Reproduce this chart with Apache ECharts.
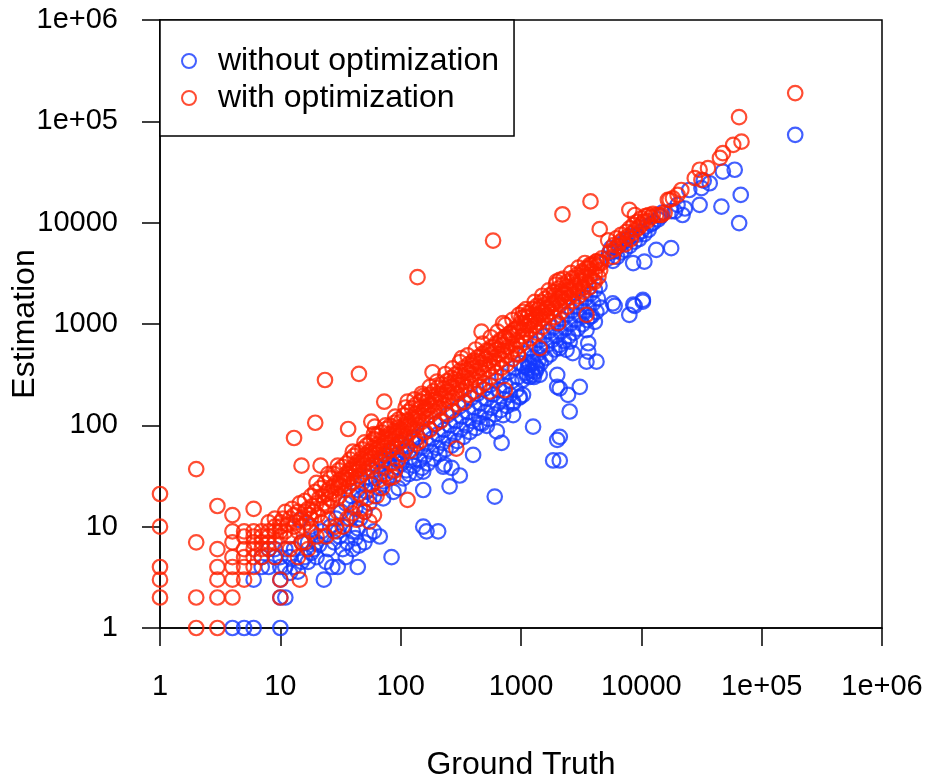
<!DOCTYPE html>
<html>
<head>
<meta charset="utf-8">
<title>Estimation vs Ground Truth</title>
<script src="https://cdn.jsdelivr.net/npm/echarts@6/dist/echarts.min.js"></script>
<style>
  html, body { margin: 0; padding: 0; background: #fff; }
  #grafico { width: 930px; height: 779px; }
</style>
</head>
<body>
<div id="grafico"></div>
<script>
// etiquetas de los ejes (escala log10)
const xTickLabels = ['1', '10', '100', '1000', '10000', '1e+05', '1e+06']
const yTickLabels = ['1', '10', '100', '1000', '10000', '1e+05', '1e+06']
const seriesNames = ['without optimization', 'with optimization']

// [ground truth, estimation] leídos del gráfico
// --- without optimization (azul)
const blueLow = [
  [4, 1], [5, 1], [6, 1], [10, 1], [10, 2], [11, 2], [6, 3], [10, 3], [7, 4], [8, 4],
  [10, 4], [7, 5], [9, 5], [8, 6], [9, 6], [10, 5], [11, 4], [11, 6], [12, 3.5], [12, 5],
  [13, 4], [13, 6], [14, 3.6], [14.5, 11.6], [15, 4.5], [15, 7], [16, 5], [17, 4.5], [17, 7],
  [18, 10], [18, 5.5], [19, 6], [20, 7], [20, 5], [21, 6.6], [22, 9], [23, 3], [23, 8],
  [24, 4.5], [25, 6], [26, 10], [27, 4], [28, 7], [29, 12], [30, 9], [30, 4]
]
const blueBand1 = [
  [31, 8], [32, 14], [33, 6], [34, 10], [35, 17], [35, 5], [36, 7], [38, 12], [39, 20], [40, 9],
  [40, 6], [42, 7.7], [42, 15], [44, 4], [44, 9.6], [44, 23], [45, 6.5], [46, 12], [47, 19],
  [48, 27], [50, 14], [50, 7], [52, 22], [53, 31], [55, 8.3], [55, 17], [57, 26], [58, 36],
  [60, 20], [60, 9], [62, 30], [64, 40], [66, 24], [67, 8], [68, 34], [70, 45], [71.6, 19],
  [72, 28], [74, 38], [76, 50], [78, 31], [80, 42], [82, 56], [84, 5], [85, 35], [87, 22],
  [88, 47], [90, 62], [92, 39], [94, 52], [96, 24], [98, 68], [100, 45]
]
const blueBand2 = [
  [102, 42], [105, 30], [108, 55], [111, 36], [114, 62], [117, 33], [120, 48], [124, 70],
  [128, 40], [131, 55], [135, 34], [139, 76], [143, 45], [147, 60], [151, 38], [154, 35],
  [154, 23], [154, 10], [155, 84], [159, 50], [164, 9], [164, 66], [168, 42], [173, 92],
  [178, 55], [183, 74], [188, 47], [193, 102], [199, 60], [205, 9], [205, 82], [210, 52],
  [216, 112], [222, 67], [226, 39], [229, 90], [232, 41], [236, 58], [243, 125], [250, 74],
  [255, 25], [257, 100], [265, 38], [265, 63], [272, 138], [280, 82], [288, 110], [296, 70],
  [305, 152], [310, 32], [314, 91], [323, 122], [333, 77], [343, 168], [353, 100], [364, 135],
  [375, 86], [386, 186], [398, 110], [400, 51], [410, 150], [422, 94], [435, 205], [448, 122],
  [455, 105], [461, 165], [475, 104], [490, 226], [504, 135], [520, 99], [520, 183], [535, 116],
  [551, 250], [568, 149], [585, 202], [605, 19.8], [603, 128], [621, 275], [630, 87], [640, 164],
  [659, 222], [679, 141], [690, 67], [699, 305], [710, 126], [720, 181], [742, 245], [764, 155],
  [787, 336], [811, 200], [836, 271], [860, 126], [860, 165], [861, 171], [887, 371], [914, 221],
  [942, 299], [970, 188], [980, 192], [999, 410]
]
const blueBand3 = [
  [1030, 280], [1060, 380], [1090, 510], [1120, 310], [1160, 420], [1190, 570], [1230, 345],
  [1260, 470], [1300, 630], [1340, 380], [1380, 510], [1420, 690], [1460, 410], [1500, 560],
  [1550, 760], [1600, 460], [1640, 620], [1690, 840], [1740, 500], [1800, 690], [1850, 920],
  [1900, 560], [1960, 760], [2020, 1010], [2080, 620], [2140, 830], [2200, 1110], [2270, 680],
  [2340, 910], [2410, 1230], [2480, 750], [2560, 1000], [2640, 1350], [2720, 820], [2800, 1100],
  [2880, 1480], [2960, 900], [3050, 1220], [3140, 1630], [3240, 990], [3340, 1340], [3440, 1790],
  [3540, 1090], [3650, 1470], [3760, 1970], [3870, 1200], [3990, 1610], [4110, 2170], [4230, 1320],
  [4360, 1780], [4490, 2390], [4620, 1450],
  [1100, 330], [1180, 300], [1250, 420], [1320, 340], [1400, 440], [1280, 300],
  [1040, 200], [1140, 366], [1180, 395], [1260, 97], [1260, 315], [1360, 366], [1430, 315],
  [1850, 45], [2000, 315], [2000, 240], [2000, 72], [2100, 577], [2100, 232], [2100, 45],
  [2100, 77], [2390, 555], [2460, 200], [2540, 670], [2540, 137], [2690, 515], [3080, 240],
  [3500, 870], [3500, 425], [3620, 646], [3620, 534], [3730, 1180], [4110, 1050], [4240, 425]
]
const blueHigh = [
  [5200, 4400], [5400, 5000], [5600, 5600], [5800, 1600], [5800, 4200], [6000, 1510], [6000, 5200],
  [6300, 4600], [6500, 5900], [6800, 5100], [7000, 6300], [7300, 5400], [7600, 6800], [7950, 1230],
  [8000, 5900], [8300, 7400], [8550, 3990], [8570, 1550], [8800, 1510], [8800, 6500], [9200, 7600],
  [9600, 6900], [10000, 8200], [10300, 1730], [10300, 1660], [10600, 4130], [10600, 7700],
  [11000, 9200], [11500, 8500], [12000, 9600], [12600, 10000], [13300, 5400], [13800, 10800],
  [14400, 11500], [15000, 12600], [17700, 5600], [17700, 13000], [19000, 12900], [20000, 15000],
  [22000, 11900], [23000, 13800], [25000, 21000], [30500, 15000], [31600, 21900], [33000, 26000],
  [37000, 24500], [46300, 14400], [47600, 31900], [59700, 33300], [65000, 9900], [67000, 18800],
  [190000, 73600]
]

// --- with optimization (rojo)
const redLow = [
  [1, 21], [1, 10], [1, 4], [1, 3], [1, 2],
  [2, 37], [2, 7], [2, 2], [2, 1],
  [3, 16], [3, 6], [3, 4], [3, 3], [3, 2], [3, 1],
  [4, 13], [4, 9], [4, 7], [4, 5], [4, 4], [4, 3], [4, 2],
  [5, 9], [5, 8], [5, 6], [5, 5], [5, 4], [5, 3],
  [6, 15], [6, 9], [6, 8], [6, 7], [6, 6], [6, 5], [6, 4],
  [7, 9], [7, 8], [7, 7], [7, 6], [7, 5],
  [8, 11], [8, 9], [8, 8], [8, 7], [8, 6],
  [9, 12], [9, 10], [9, 9], [9, 7], [9, 5],
  [10, 11], [10, 10], [10, 9], [10, 8], [10, 3], [10, 2]
]
const redBand1 = [
  [10.5, 12], [11, 9], [11, 14], [11.5, 10.5], [12, 8], [12, 12], [12.5, 15], [13, 10], [13, 13],
  [13.5, 11], [14, 9], [14, 14], [14.5, 17], [15, 12], [15.5, 10], [16, 14], [16, 18], [16.5, 11],
  [17, 15], [17.5, 13], [18, 20], [18, 12], [18.5, 16], [19, 14], [19.5, 22], [20, 17], [20.5, 13],
  [21, 19], [21.5, 24], [22, 15], [22.5, 20], [23, 17], [23.5, 27], [24, 21], [24.5, 16], [25, 23],
  [25.5, 19], [26, 30], [26.5, 22], [27, 18], [27.5, 25], [28, 33], [28.5, 21], [29, 27], [30, 24],
  [30.5, 36], [31, 20], [31.5, 29], [32, 25], [33, 39], [33.5, 28], [34, 23], [35, 33], [35.5, 42],
  [36, 29], [37, 25], [37.5, 36], [38, 46], [39, 31], [40, 27], [40.5, 39], [41, 50], [42, 35],
  [43, 30], [43.5, 43], [44, 54], [45, 37], [46, 32], [47, 47], [48, 58], [49, 40], [50, 35],
  [51, 51], [52, 63], [53, 44], [54, 38], [55, 55], [56, 68], [57, 47], [58, 41], [59, 60],
  [60, 73], [62, 51], [63, 44], [64, 65], [65, 79], [67, 55], [68, 48], [69, 70], [70, 85],
  [72, 60], [73, 52], [75, 76], [76, 92], [78, 64], [79, 56], [81, 82], [82, 99], [84, 69],
  [86, 60], [88, 88], [89, 106], [91, 74], [93, 65], [95, 95], [96, 114], [98, 80],
  [12, 6], [14, 5], [15, 7], [16, 7], [17, 6], [18, 9], [20, 8], [22, 11], [24, 8], [25, 12],
  [28, 9], [29, 10], [30, 14], [33, 10], [36, 12], [38, 17], [40, 13.5], [43, 11.7], [45, 21],
  [46, 15], [50, 14], [52, 19], [58, 26], [60, 13], [63, 20], [66, 29], [70, 24], [75, 33],
  [80, 30], [85, 42], [90, 36], [95, 45],
  [20, 27], [25, 33], [30, 40], [40, 55], [50, 68], [60, 82], [75, 100], [90, 122],
  [31, 26], [34, 30], [37, 33], [41, 37], [44, 40], [48, 44], [52, 48], [57, 52], [62, 57],
  [67, 62], [73, 67], [79, 73], [86, 79], [93, 86]
]
const redBand2 = [
  [100, 108], [102, 70], [104, 88], [106, 125], [109, 78], [112, 97], [115, 136], [118, 84],
  [121, 106], [124, 148], [127, 92], [131, 115], [134, 160], [138, 100], [142, 124], [146, 172],
  [150, 108], [154, 134], [158, 186], [163, 117], [167, 145], [172, 200], [177, 126], [182, 157],
  [187, 216], [192, 136], [198, 170], [203, 234], [209, 148], [215, 184], [221, 252], [228, 160],
  [234, 198], [241, 272], [248, 174], [255, 214], [262, 294], [270, 188], [278, 232], [286, 318],
  [294, 204], [302, 250], [311, 344], [320, 220], [329, 270], [339, 372], [349, 238], [359, 292],
  [369, 402], [380, 258], [391, 316], [402, 434], [414, 280], [426, 342], [438, 470], [451, 302],
  [464, 370], [477, 508], [491, 327], [505, 400], [520, 548], [535, 354], [551, 432], [567, 592],
  [583, 382], [600, 466], [618, 640], [636, 414], [654, 504], [673, 692], [693, 448], [713, 545],
  [734, 748], [755, 484], [777, 590], [800, 808], [823, 524], [847, 638], [872, 874], [897, 566],
  [923, 690], [950, 944], [978, 612],
  [104, 52], [112, 60], [120, 56], [132, 72], [145, 70], [160, 86], [175, 90], [195, 104],
  [215, 110], [240, 130], [265, 140], [300, 160], [335, 170], [370, 200], [410, 215], [450, 240],
  [500, 260], [560, 300], [620, 330], [690, 370], [760, 400], [850, 450], [940, 510],
  [110, 150], [130, 180], [150, 205], [175, 240], [200, 270], [235, 320], [270, 365], [310, 420],
  [360, 490], [420, 560], [480, 640], [560, 740], [640, 840], [740, 980], [850, 1100], [960, 1230],
  [101, 90], [107, 100], [113, 112], [119, 102], [126, 120], [133, 130], [140, 118], [148, 150],
  [156, 140], [165, 170], [174, 160], [184, 190], [194, 180], [205, 205], [216, 195], [228, 230],
  [241, 215], [254, 255], [268, 240], [283, 285], [298, 265], [315, 315], [332, 295], [350, 350],
  [369, 330], [389, 390], [410, 365], [432, 430], [456, 405], [481, 480], [507, 450], [535, 535],
  [564, 500], [595, 590], [627, 555], [661, 660], [697, 615], [735, 730], [775, 685], [817, 810],
  [862, 760], [909, 900], [958, 845]
]
const redBand3 = [
  [1000, 1020], [1025, 760], [1050, 880], [1075, 1190], [1100, 820], [1130, 960], [1160, 1290],
  [1190, 890], [1220, 1040], [1250, 1400], [1285, 960], [1320, 1130], [1355, 1510], [1390, 1040],
  [1430, 1220], [1470, 1640], [1510, 1130], [1550, 1320], [1590, 1770], [1630, 1220], [1680, 1430],
  [1730, 1920], [1780, 1320], [1830, 1550], [1880, 2070], [1930, 1430], [1990, 1680], [2050, 2240],
  [2110, 1550], [2170, 1820], [2230, 2430], [2300, 1680], [2370, 1970], [2440, 2620], [2510, 1820],
  [2590, 2130], [2670, 2830], [2750, 1970], [2830, 2300], [2920, 3060], [3010, 2130], [3100, 2490],
  [3200, 3300], [3300, 2300], [3400, 2700], [3510, 3560], [3620, 2490], [3740, 2920], [3860, 3840],
  [3990, 2700], [4120, 3160], [4260, 4140], [4400, 2920], [4550, 3400], [4700, 4450],
  [1050, 650], [1200, 720], [1350, 820], [1500, 930], [1700, 1050], [1900, 1170], [2150, 1320],
  [2400, 1480], [2700, 1680], [3000, 1870], [3300, 2080], [3700, 2300], [4100, 2600],
  [1100, 1400], [1300, 1650], [1500, 1900], [1700, 2150], [1950, 2450], [2250, 2800], [2600, 3200],
  [3000, 3600], [3400, 4000],
  [1010, 1150], [1065, 1000], [1125, 1150], [1185, 1070], [1250, 1240], [1320, 1180], [1390, 1380],
  [1470, 1300], [1550, 1530], [1640, 1440], [1730, 1700], [1820, 1600], [1920, 1900], [2030, 1790],
  [2140, 2100], [2260, 1980], [2380, 2330], [2510, 2190], [2650, 2590], [2800, 2430], [2950, 2870],
  [3110, 2700], [3290, 3180], [3470, 3000], [3660, 3530], [3860, 3330], [4080, 3910], [4300, 3700],
  [4540, 4100]
]
const redHigh = [
  [5300, 6700], [5500, 5200], [5800, 4600], [5900, 6000], [6000, 5500], [6200, 7000], [6400, 5900],
  [6600, 6400], [6800, 7600], [7000, 6800], [7300, 6100], [7500, 8100], [7700, 7300], [7950, 13400],
  [8000, 8800], [8200, 6900], [8400, 7900], [8600, 9500], [8850, 11900], [9000, 8500], [9300, 10200],
  [9600, 9000], [10000, 11000], [10000, 9600], [10400, 10200], [10800, 11600], [11500, 11900],
  [11200, 10400], [12000, 11300], [12500, 12200], [13300, 11900], [14000, 11900], [14700, 11900],
  [15600, 12500], [16600, 16800], [17200, 16800], [18300, 17400], [20000, 18800], [21500, 21000],
  [27800, 27500], [30500, 33300], [31600, 26400], [35800, 34500], [45000, 43500], [47600, 48500],
  [58000, 58600], [64900, 110000], [68000, 63000], [190000, 190000]
]
const redOutliers = [
  [13, 75], [15, 40], [19.5, 106], [21.6, 40], [23.5, 280], [36.6, 92], [45, 322], [57, 109],
  [61, 97], [63, 80], [73, 171], [114, 171], [154, 195], [184, 334], [138, 2900], [322, 460],
  [470, 840], [710, 1020], [586, 6650], [2210, 12100], [3780, 16200], [4510, 8630], [1970, 2620],
  [2100, 2720], [3730, 3840], [4230, 4150], [4640, 3990], [1040, 1320], [1430, 1450],
  [14.5, 3], [55, 11.2], [87, 31], [114, 18.4], [135, 66], [290, 59], [550, 215], [735, 223],
  [946, 495], [1430, 577], [2040, 1020], [3500, 1230]
]

const sinOptimizar = [].concat(blueLow, blueBand1, blueBand2, blueBand3, blueHigh)
const conOptimizar = [].concat(redLow, redBand1, redBand2, redBand3, redHigh, redOutliers)

const AZUL = '#1438ff'
const ROJO = '#ff2000'
const FUENTE = '"Liberation Sans", Arial, Helvetica, sans-serif'

function etiquetaLog(etiquetas) {
  return (v) => etiquetas[Math.round(Math.log10(v))] ?? ''
}

function ejeLog(etiquetas, nombre, margen, hueco) {
  return {
    type: 'log',
    logBase: 10,
    min: 1,
    max: 1e6,
    name: nombre,
    nameLocation: 'middle',
    nameGap: hueco,
    nameMoveOverlap: false,
    nameTextStyle: { fontSize: 32, color: '#000', fontFamily: FUENTE },
    axisLine: { show: true, onZero: false, lineStyle: { color: '#000', width: 1.5 } },
    axisTick: { show: true, inside: false, length: 18, lineStyle: { color: '#000', width: 1.5 } },
    axisLabel: {
      fontSize: 29, color: '#000', fontFamily: FUENTE, margin: margen,
      showMinLabel: true, showMaxLabel: true,
      formatter: etiquetaLog(etiquetas),
    },
    minorTick: { show: false },
    splitLine: { show: false },
  }
}

function serie(nombre, datos, color) {
  return {
    type: 'scatter',
    name: nombre,
    data: datos,
    symbol: 'circle',
    symbolSize: 14.5,
    itemStyle: { color: 'transparent', borderColor: color, borderWidth: 2.2 },
    emphasis: { disabled: true },
    silent: true,
  }
}

const grafico = echarts.init(document.getElementById('grafico'), null, { renderer: 'canvas' })

grafico.setOption({
  animation: false,
  backgroundColor: '#fff',
  textStyle: { fontFamily: FUENTE },
  grid: {
    left: 160, right: 48, top: 20, bottom: 151,
    outerBoundsMode: 'none',
    show: true, borderColor: '#000', borderWidth: 1.5,
  },
  legend: {
    orient: 'vertical',
    left: 160,
    top: 20,
    padding: [25, 15, 22, 21],
    itemWidth: 14,
    itemHeight: 14,
    itemGap: 5,
    borderColor: '#000',
    borderWidth: 1.5,
    backgroundColor: '#fff',
    selectedMode: false,
    textStyle: { fontSize: 32, color: '#000', fontFamily: FUENTE, padding: [0, 0, 0, 17] },
    data: [
      { name: seriesNames[0], icon: 'circle', itemStyle: { color: 'transparent', borderColor: AZUL, borderWidth: 2 } },
      { name: seriesNames[1], icon: 'circle', itemStyle: { color: 'transparent', borderColor: ROJO, borderWidth: 2 } },
    ],
  },
  xAxis: ejeLog(xTickLabels, 'Ground Truth', 44, 121),
  yAxis: ejeLog(yTickLabels, 'Estimation', 42, 119),
  series: [
    serie(seriesNames[0], sinOptimizar, AZUL),
    serie(seriesNames[1], conOptimizar, ROJO),
  ],
})
</script>
</body>
</html>
